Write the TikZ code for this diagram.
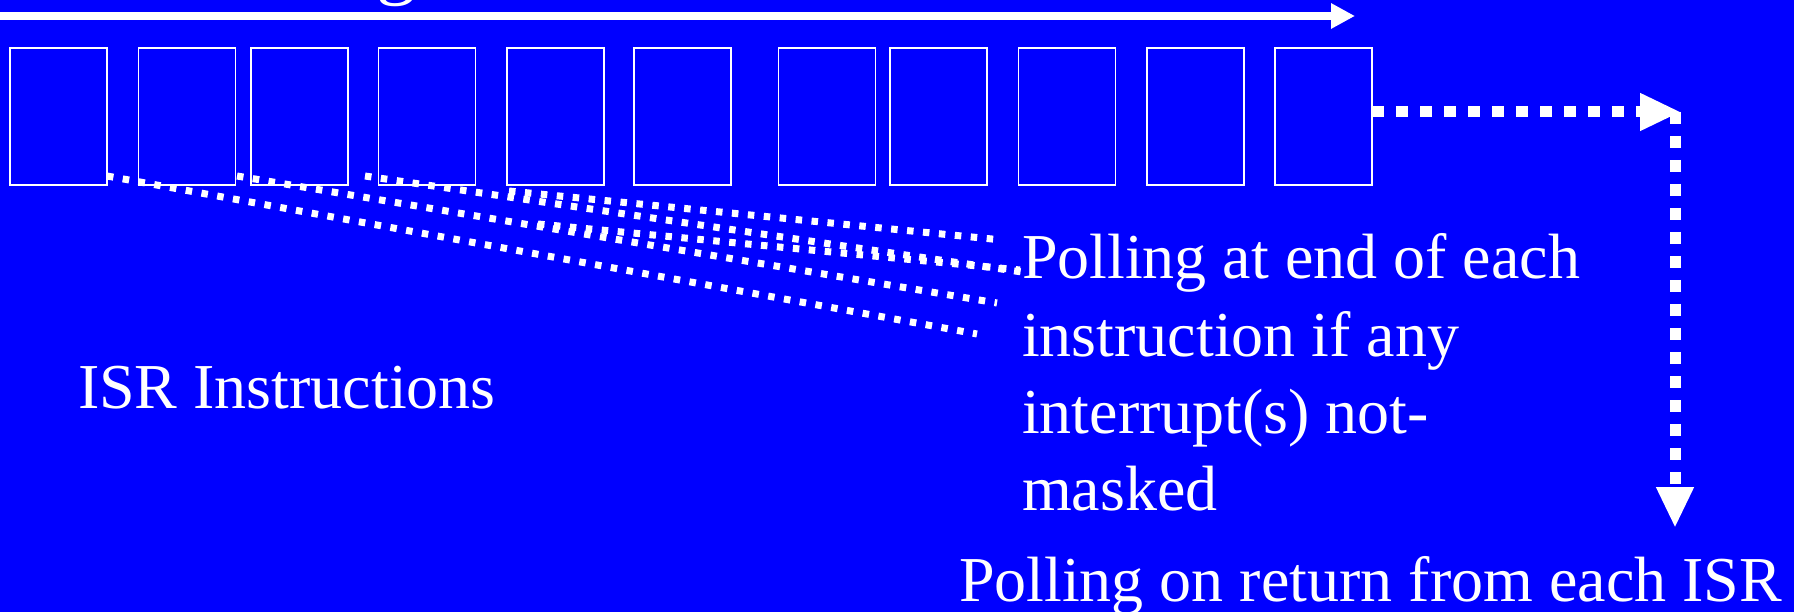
\documentclass[tikz,border=0pt]{standalone}
\usepackage{fontspec}
\setmainfont{Liberation Serif}
\usetikzlibrary{arrows.meta}
\definecolor{bgblue}{RGB}{0,0,255}
\begin{document}
\begin{tikzpicture}[x=1pt,y=-1pt,
  insbox/.style={draw=white, line width=1.8pt, minimum width=97pt, minimum height=137pt, inner sep=0pt, outer sep=0pt},
  txt/.style={text=white, font=\fontsize{64}{77}\selectfont, inner sep=0pt, outer sep=0pt, anchor=base west},
  polline/.style={draw=white, line width=7pt, dash pattern=on 6.5pt off 9.5pt},
  retarrow/.style={draw=white, line width=11pt, dash pattern=on 12pt off 12pt, -{Triangle[length=41pt,width=35pt]}},
  flowarrow/.style={draw=white, line width=8pt, -{Triangle[length=24pt,width=24pt]}}]
\fill[bgblue] (0,0) rectangle (1794,612);
\useasboundingbox (0,0) rectangle (1794,612);
% cut-off heading fragment
\node[txt, font=\fontsize{80}{96}\selectfont] (gfrag) at (376,-10) {g};
% flow arrow
\coordinate (fl0) at (-5,16);
\coordinate (fl1) at (1355,16);
\draw[flowarrow] (fl0) -- (fl1);
% instruction boxes
\foreach \n/\x in {1/58.5,2/187,3/299.5,4/427,5/555.5,6/682.5,7/827,8/938.5,9/1067,10/1195.5,11/1323.5}
  \node[insbox] (b\n) at (\x,116.5) {};
% texts
\node[txt] (t1) at (1022,279) {Polling at end of each};
\node[txt] (t2) at (1022,356) {instruction if any};
\node[txt] (t3) at (1022,433) {interrupt(s) not-};
\node[txt] (t4) at (1022,510) {masked};
\node[txt] (isr) at (78,408) {ISR Instructions};
\node[txt] (ret) at (959,601) {Polling on return from each ISR};
% polling lines
\coordinate (pa0) at (107,176); \coordinate (pa1) at (977,334);
\coordinate (pb0) at (237,176); \coordinate (pb1) at (997,303);
\coordinate (pc0) at (365,176); \coordinate (pc1) at (1022,272);
\coordinate (pd0) at (509,191); \coordinate (pd1) at (1002,240);
\coordinate (pe0) at (538,224); \coordinate (pe1) at (1020,270);
\draw[polline] (pa0) -- (pa1);
\draw[polline] (pb0) -- (pb1);
\draw[polline] (pc0) -- (pc1);
\draw[polline] (pd0) -- (pd1);
\draw[polline] (pe0) -- (pe1);
% return polling arrow
\coordinate (corner) at (1675,112);
\coordinate (hend) at (1681,112);
\coordinate (vend) at (1675,528);
\draw[retarrow] (b11.east |- corner) -- (hend);
\draw[retarrow] (corner) -- (vend);
\end{tikzpicture}
\end{document}
